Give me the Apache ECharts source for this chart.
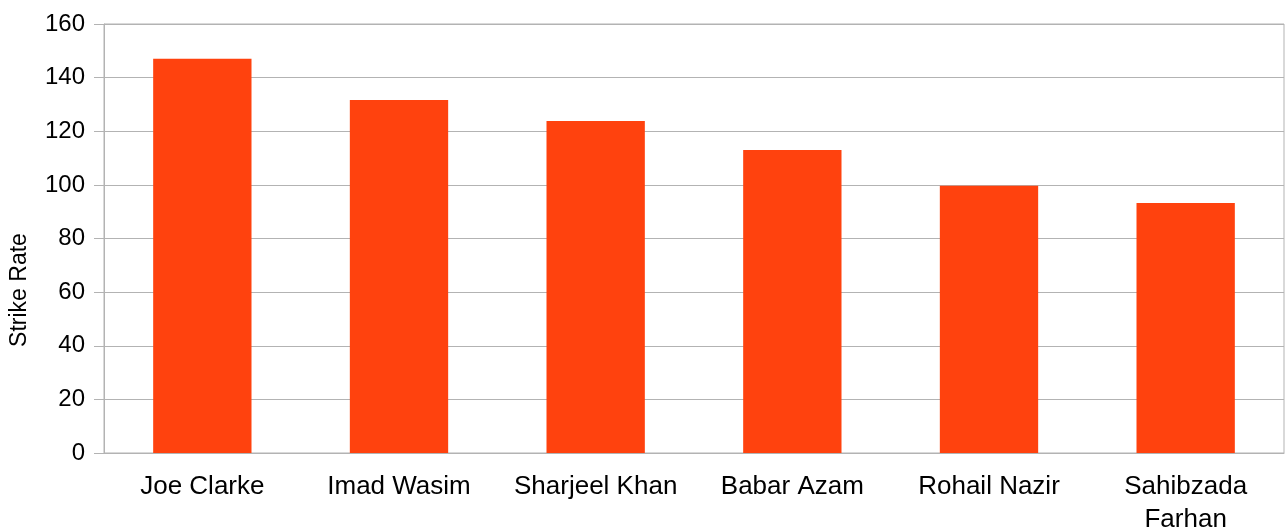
<!DOCTYPE html>
<html>
<head>
<meta charset="utf-8">
<script src="https://cdn.jsdelivr.net/npm/echarts@6/dist/echarts.min.js"></script>
<style>
  html, body { margin: 0; padding: 0; background: #fff; }
  #chart { width: 1288px; height: 528px; }
</style>
</head>
<body>
<div id="chart"></div>
<script>
const players = ['Joe Clarke', 'Imad Wasim', 'Sharjeel Khan', 'Babar Azam', 'Rohail Nazir', 'Sahibzada\nFarhan'];
const strikeRates = [147, 131.7, 123.8, 113, 99.7, 93.2];
const yTitle = 'Strike Rate';

const chart = echarts.init(document.getElementById('chart'));
const font = 'Liberation Sans, Arial, sans-serif';

chart.setOption({
  animation: false,
  grid: {
    left: 104,
    right: 4,
    top: 24,
    bottom: 75,
    outerBoundsMode: 'none',
    containLabel: false,
    show: true,
    borderColor: '#b3b3b3',
    borderWidth: 1
  },
  xAxis: {
    type: 'category',
    data: players,
    axisLine: { lineStyle: { color: '#b3b3b3' } },
    axisTick: { length: 10, lineStyle: { color: '#b3b3b3' } },
    axisLabel: {
      color: '#000',
      fontFamily: font,
      fontSize: 26,
      lineHeight: 33,
      margin: 17,
      interval: 0
    }
  },
  yAxis: {
    type: 'value',
    min: 0,
    max: 160,
    interval: 20,
    axisLine: { show: true, lineStyle: { color: '#b3b3b3' } },
    axisTick: { show: true, length: 10, lineStyle: { color: '#b3b3b3' } },
    splitLine: { lineStyle: { color: '#b3b3b3' } },
    axisLabel: {
      color: '#000',
      fontFamily: font,
      fontSize: 24,
      margin: 19
    }
  },
  graphic: [{
    type: 'text',
    x: 20,
    y: 290,
    rotation: Math.PI / 2,
    style: {
      text: yTitle,
      fill: '#000',
      font: '23px ' + font,
      align: 'center',
      verticalAlign: 'middle'
    }
  }],
  series: [{
    type: 'bar',
    data: strikeRates,
    barWidth: '50%',
    itemStyle: { color: '#ff420e' }
  }]
});
</script>
</body>
</html>
